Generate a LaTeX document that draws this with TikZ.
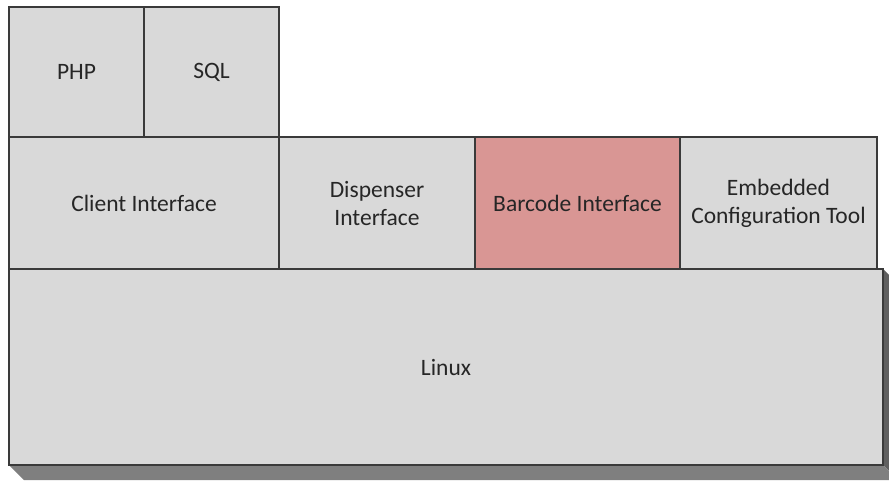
\documentclass[tikz,border=0pt]{standalone}
\usepackage{fontspec}
\setmainfont{Carlito}
\definecolor{boxfill}{HTML}{D9D9D9}
\definecolor{boxline}{HTML}{3A3A3A}
\definecolor{barcodefill}{HTML}{D99694}
\definecolor{txt}{HTML}{262626}
\definecolor{extrude}{HTML}{7F7F7F}
\definecolor{extrudeside}{HTML}{5F5F5F}
\tikzset{
  layerbox/.style={draw=boxline, fill=boxfill, line width=1.4pt, inner sep=0pt, outer sep=0pt,
    anchor=north west, align=center, text=txt,
    font=\fontsize{23.5}{28}\selectfont},
}
\begin{document}
\begin{tikzpicture}[x=1pt,y=-1pt]
\useasboundingbox (0,0) rectangle (889,480);
\begin{scope}
\clip (0,0) rectangle (889,480);
% extrusion of Linux block
\fill[extrudeside] (883,269) -- (898,284) -- (898,480) -- (883,465) -- cycle;
\fill[extrude] (9,465) -- (883,465) -- (898,480) -- (24,480) -- cycle;
\end{scope}
\node[layerbox, minimum width=874pt, minimum height=196pt] (linux) at (9,269) {Linux};
\node[layerbox, minimum width=270pt, minimum height=132pt] (client) at (9,137) {Client Interface};
\node[layerbox, minimum width=196pt, minimum height=132pt] (disp) at (279,137) {Dispenser\\Interface};
\node[layerbox, fill=barcodefill, minimum width=205pt, minimum height=132pt] (barcode) at (475,137) {Barcode Interface};
\node[layerbox, minimum width=197pt, minimum height=132pt] (embedded) at (680,137) {Embedded\\Configuration Tool};
\node[layerbox, minimum width=135pt, minimum height=130pt] (php) at (9,7) {PHP};
\node[layerbox, minimum width=135pt, minimum height=130pt] (sql) at (144,7) {SQL};
\end{tikzpicture}
\end{document}
